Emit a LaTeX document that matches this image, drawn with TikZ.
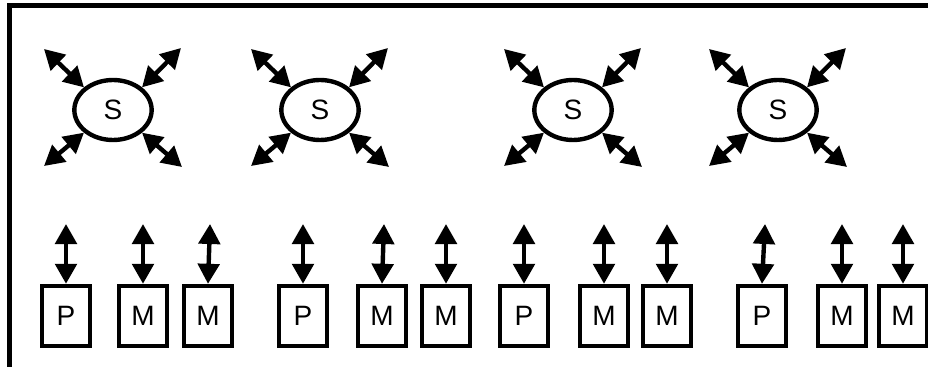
\documentclass[tikz,border=0pt]{standalone}
\usepackage{fontspec}
\setmainfont{Liberation Sans}
\usetikzlibrary{arrows.meta,shapes.geometric}
\begin{document}
% one drawing unit is 0.75pt
\begin{tikzpicture}[x=0.75pt,y=-0.75pt,
  thick line/.style={line width=3.3pt},
  label font/.style={font=\fontsize{21pt}{23pt}\selectfont},
  sw/.style={draw,thick line,ellipse,inner sep=0pt,minimum width=58pt,minimum height=45pt,label font},
  unit/.style={draw,thick line,rectangle,inner sep=0pt,minimum width=36pt,minimum height=45pt,label font},
  link/.style={thick line,{Triangle[length=15pt,width=16pt]}-{Triangle[length=15pt,width=16pt]}}]
\useasboundingbox (0,0) rectangle (928,367);
% frame: top and left edges
\draw[line width=3.2pt] (9.5,367) -- (9.5,5.5) -- (928,5.5);
% switches with their four links
\foreach \i/\x in {1/113,2/320,3/573,4/778}{
  \node[sw] (s\i) at (\x,110) {S};
  \coordinate (s\i nw) at (\x-69,49);
  \coordinate (s\i ne) at (\x+68,48);
  \coordinate (s\i sw) at (\x-69,166);
  \coordinate (s\i se) at (\x+69,167);
  \draw[link] (s\i.142) -- (s\i nw);
  \draw[link] (s\i.38) -- (s\i ne);
  \draw[link] (s\i.218) -- (s\i sw);
  \draw[link] (s\i.322) -- (s\i se);
}
% processor and memory units with their links
\foreach \n/\x/\t/\dx in {p1/66/P/0, m1/143/M/0, m2/208/M/2,
                          p2/303/P/0, m3/382/M/2, m4/446/M/0,
                          p3/524/P/0, m5/604/M/0, m6/667/M/0,
                          p4/762/P/3, m7/842/M/0, m8/903/M/0}{
  \node[unit] (\n) at (\x,316) {\t};
  \coordinate (\n top) at (\x+\dx,224);
  \draw[link] (\n.north) -- (\n top);
}
\end{tikzpicture}
\end{document}
